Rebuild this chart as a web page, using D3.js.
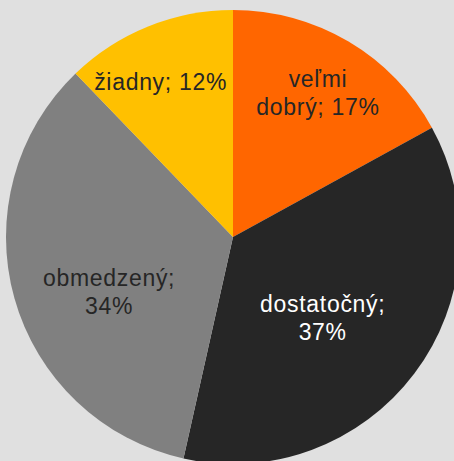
<!DOCTYPE html>
<html><head><meta charset="utf-8">
<script src="https://cdn.jsdelivr.net/npm/d3@7"></script>
<style>html,body{margin:0;padding:0;background:#e0e0e0;}svg{display:block;}</style>
</head><body>
<svg id="c" width="454" height="461"></svg>
<script>
const categories = ["veľmi dobrý", "dostatočný", "obmedzený", "žiadny"];
const values = [17.0, 36.5, 34.3, 12.2];
const colors = ["#ff6600", "#262626", "#808080", "#ffc000"];
const labelColors = ["#262626", "#ffffff", "#262626", "#262626"];
const labelLines = [["veľmi", "dobrý; 17%"], ["dostatočný;", "37%"], ["obmedzený;", "34%"], ["žiadny; 12%"]];
// label anchor layout: [fraction along slice angle, radius]
const labelLayout = [[0.50, 167], [0.54, 121], [0.43, 136], [0.43, 171]];

const W = 454, H = 461, cx = 233, cy = 237, R = 227;
const svg = d3.select("#c");
svg.append("rect").attr("width", W).attr("height", H).attr("fill", "#e0e0e0");
const g = svg.append("g").attr("transform", `translate(${cx},${cy})`);
const pie = d3.pie().sort(null).value(d => d)(values);
const arc = d3.arc().innerRadius(0).outerRadius(R);
g.selectAll("path").data(pie).join("path").attr("d", arc).attr("fill", (d, i) => colors[i]);

pie.forEach((d, i) => {
  const [f, r] = labelLayout[i];
  const a = d.startAngle + (d.endAngle - d.startAngle) * f;
  const x = r * Math.sin(a), y = -r * Math.cos(a);
  const lines = labelLines[i];
  const lh = 28;
  const t = g.append("text").attr("text-anchor", "middle")
    .attr("font-family", "Liberation Sans, Arial, sans-serif").attr("font-size", 23)
    .attr("letter-spacing", 0.7)
    .attr("fill", labelColors[i]);
  lines.forEach((s, k) => {
    t.append("tspan").attr("x", x).attr("y", y + (k - (lines.length - 1) / 2) * lh + 7.5).text(s);
  });
});
</script>
</body></html>
